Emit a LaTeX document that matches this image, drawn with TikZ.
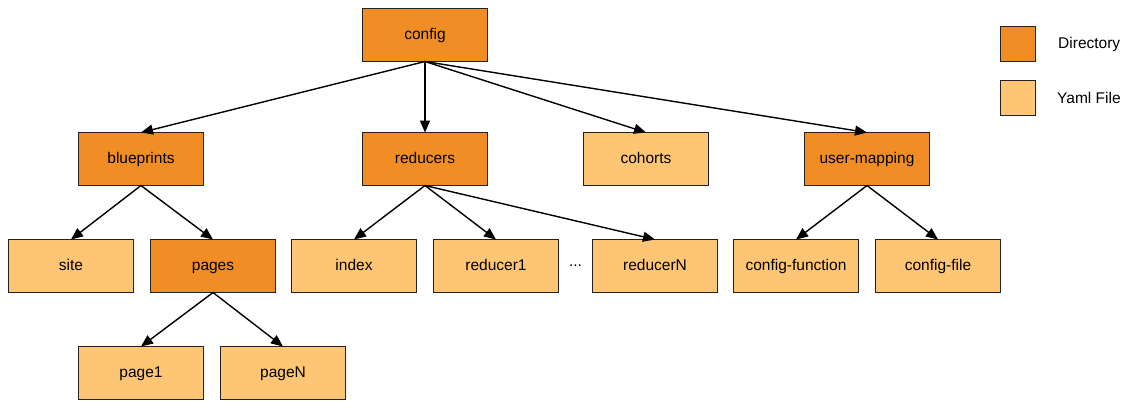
\documentclass[tikz,border=0pt]{standalone}
\usepackage{fontspec}
\setmainfont{Liberation Sans}
\usetikzlibrary{arrows.meta,positioning}
\definecolor{dirorange}{RGB}{240,142,37}
\definecolor{yamlorange}{RGB}{254,197,116}
\definecolor{boxline}{RGB}{34,34,34}

\begin{document}
\begin{tikzpicture}[x=1pt,y=-1pt,% styles for the whole tree
				font=\fontsize{15.5}{18}\selectfont,
				box/.style={
					rectangle,draw=boxline,line width=1.5pt,
					outer sep=0pt,
					minimum width=125pt,	% all boxes have the same size
					minimum height=53pt,
					text height=11pt,text depth=2pt	% same baseline in every box
				},
				dir/.style={box,fill=dirorange},
				yaml/.style={box,fill=yamlorange},
				every edge/.style={draw,line width=1.4pt,-{Triangle[length=12pt,width=10pt]}}
			]
			\useasboundingbox (0,0) rectangle (1129,400);
			% top levels
			\node[dir](config) at (425,35) {config};
			\node[dir](reducers)[below=71pt of config]{reducers};
			\node[dir](blueprints)[left=159pt of reducers]{blueprints};
			\node[yaml](cohorts)[right=96pt of reducers]{cohorts};
			\node[dir](usermap)[right=96pt of cohorts]{user-mapping};
			% second row
			\node[yaml](site)[below=54pt of blueprints,xshift=-70pt]{site};
			\node[dir](pages)[right=17pt of site]{pages};
			\node[yaml](index)[right=16pt of pages]{index};
			\node[yaml](reducer1)[right=17pt of index]{reducer1};
			\node[yaml](reducerN)[right=34pt of reducer1]{reducerN};
			\node[yaml](cfgfunc)[right=16pt of reducerN]{config-function};
			\node[yaml](cfgfile)[right=17pt of cfgfunc]{config-file};
			\path (reducer1) -- node (dots) {...} (reducerN);
			% third row
			\node[yaml](page1)[below=54pt of pages,xshift=-72pt]{page1};
			\node[yaml](pageN)[right=17pt of page1]{pageN};
			% legend
			\node[dir,minimum size=35pt,minimum width=35pt](legdir) at (1018,44) {};
			\node[yaml,minimum size=35pt,minimum width=35pt](legyaml) at (1018,98) {};
			\node[anchor=west,inner sep=0pt](legdirtxt) at (1058,44) {Directory};
			\node[anchor=west,inner sep=0pt](legyamltxt) at (1057,98) {Yaml File};
			\path
			(config.south)edge (blueprints.north)
			(config.south)edge (reducers.north)
			(config.south)edge (cohorts.north)
			(config.south)edge (usermap.north)
			(blueprints.south)edge (site.north)
			(blueprints.south)edge (pages.north)
			(reducers.south)edge (index.north)
			(reducers.south)edge (reducer1.north)
			(reducers.south)edge (reducerN.north)
			(usermap.south)edge (cfgfunc.north)
			(usermap.south)edge (cfgfile.north)
			(pages.south)edge (page1.north)
			(pages.south)edge (pageN.north)
			;
		\end{tikzpicture}
\end{document}
